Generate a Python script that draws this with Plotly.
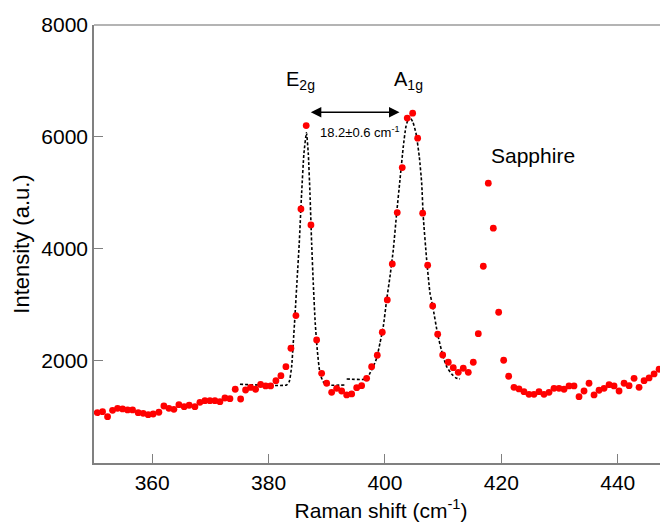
import plotly.graph_objects as go

raman_shift = [350.55, 351.47, 352.33, 353.19, 354.05, 354.91, 355.77, 356.63, 357.59, 358.45,
               359.31, 360.17, 361.15, 362.01, 362.87, 363.73, 364.59, 365.50, 366.36, 367.34,
               368.20, 369.06, 369.92, 370.78, 371.64, 372.50, 373.36, 374.27, 375.20, 376.05,
               376.91, 377.77, 378.63, 379.49, 380.35, 381.26, 382.12, 382.98, 383.84, 384.70,
               385.56, 386.47, 387.28, 388.26, 389.12, 389.98, 390.84, 391.70, 392.56, 393.42,
               394.28, 395.14, 395.99, 396.85, 397.71, 398.68, 399.54, 400.40, 401.26, 402.11,
               402.97, 403.83, 404.76, 405.62, 406.48, 407.34, 408.20, 409.06, 409.92, 410.88,
               411.74, 412.60, 413.46, 414.32, 415.18, 416.04, 416.90, 417.76, 418.62, 419.54,
               420.40, 421.26, 422.17, 423.03, 423.89, 424.75, 425.61, 426.47, 427.33, 428.19,
               429.05, 429.91, 430.77, 431.63, 432.49, 433.35, 434.21, 435.07, 435.93, 436.79,
               437.65, 438.51, 439.37, 440.23, 441.09, 441.95, 442.81, 443.67, 444.53, 445.39,
               446.25, 447.11, 447.97, 448.66]
intensity = [1077, 1094, 1005, 1119, 1155, 1143, 1125, 1125, 1077, 1066,
             1041, 1053, 1084, 1196, 1155, 1137, 1219, 1184, 1209, 1184,
             1262, 1291, 1291, 1291, 1273, 1339, 1327, 1495, 1321, 1482,
             1527, 1495, 1580, 1554, 1554, 1648, 1738, 1898, 2227, 2810,
             4716, 6204, 4430, 2375, 1780, 1602, 1441, 1512, 1464, 1393,
             1411, 1523, 1559, 1691, 1898, 2102, 2513, 3090, 3733, 4650,
             5454, 6337, 6426, 5979, 4639, 3710, 2983, 2477, 2107, 1977,
             1881, 1798, 1870, 1798, 1977, 2488, 3692, 5175, 4371, 2870,
             2013, 1727, 1530, 1500, 1452, 1405, 1405, 1452, 1405, 1441,
             1512, 1512, 1495, 1554, 1554, 1362, 1464, 1602, 1393, 1477,
             1512, 1577, 1554, 1464, 1602, 1559, 1691, 1530, 1648, 1697,
             1768, 1852, 1791, 2031]

# Fitted E2g curve
fit_e2g_x = [375.08, 383.10, 383.55, 383.96, 384.24, 384.53, 384.93, 385.27, 385.68, 386.08,
             386.51, 386.82, 387.11, 387.40, 387.68, 388.02, 388.37, 388.83, 389.39, 389.98, 393.12]
fit_e2g_y = [1584, 1572, 1630, 1898, 2317, 2792, 3506, 4103, 4997, 5711,
             6074, 5711, 4997, 4103, 3389, 2674, 2197, 1781, 1630, 1572, 1572]

# Fitted A1g curve
fit_a1g_x = [393.42, 396.85, 397.42, 397.99, 398.57, 399.14, 399.71, 400.29, 400.86, 401.43,
             402.01, 402.58, 403.15, 403.61, 404.18, 404.76, 405.33, 405.90, 406.31, 406.58,
             407.17, 407.74, 408.20, 409.06, 409.92, 410.61, 411.47, 412.21, 412.89]
fit_a1g_y = [1679, 1679, 1781, 1898, 2049, 2317, 2613, 3090, 3506, 3983,
             4639, 5234, 5829, 6187, 6365, 6276, 6069, 5650, 5175, 4578,
             3805, 3210, 2983, 2477, 2107, 1898, 1768, 1697, 1679]

x_ticks = [360, 380, 400, 420, 440]
y_ticks = [2000, 4000, 6000, 8000]

FONT = "Arial, Liberation Sans, sans-serif"

fig = go.Figure()
fig.add_trace(go.Scatter(x=fit_e2g_x, y=fit_e2g_y, mode="lines",
                         line=dict(color="black", width=1.6, dash="3px,2px", shape="spline", smoothing=0.5),
                         showlegend=False, hoverinfo="skip"))
fig.add_trace(go.Scatter(x=fit_a1g_x, y=fit_a1g_y, mode="lines",
                         line=dict(color="black", width=1.6, dash="3px,2px", shape="spline", smoothing=0.5),
                         showlegend=False, hoverinfo="skip"))
fig.add_trace(go.Scatter(x=raman_shift, y=intensity, mode="markers",
                         marker=dict(color="#ff0000", size=6.8, line=dict(width=0)),
                         showlegend=False))

# double-headed arrow
fig.add_annotation(x=402.5, y=6444, ax=387.0, ay=6444, xref="x", yref="y", axref="x", ayref="y",
                   showarrow=True, arrowhead=2, startarrowhead=2, arrowside="end+start",
                   arrowsize=1.4, startarrowsize=1.4, arrowwidth=1.5, arrowcolor="black", text="")
fig.add_annotation(x=395.7, y=6097, xref="x", yref="y", text="18.2±0.6 cm<sup>-1</sup>",
                   showarrow=False, font=dict(family=FONT, size=13, color="black"))
fig.add_annotation(x=385.4, y=7010, xref="x", yref="y", text="E<sub>2g</sub>",
                   showarrow=False, font=dict(family=FONT, size=20, color="black"))
fig.add_annotation(x=404.1, y=7010, xref="x", yref="y", text="A<sub>1g</sub>",
                   showarrow=False, font=dict(family=FONT, size=20, color="black"))
fig.add_annotation(x=425.5, y=5668, xref="x", yref="y", text="Sapphire",
                   showarrow=False, font=dict(family=FONT, size=21, color="black"))

# top spine
fig.add_shape(type="line", xref="paper", yref="paper", x0=0, x1=1, y0=1, y1=1,
              line=dict(color="#b4b4b4", width=2))

fig.update_layout(
    width=660, height=518,
    margin=dict(l=86, r=0, t=17, b=63),
    plot_bgcolor="white", paper_bgcolor="white",
    font=dict(family=FONT, size=21, color="black"),
    xaxis=dict(range=[350, 448.64], tickvals=x_ticks, ticks="inside", ticklen=9,
               tickcolor="#808080", tickwidth=1.2, showline=True, linecolor="#808080", linewidth=1.5,
               showgrid=False, zeroline=False, tickfont=dict(size=21),
               title=dict(text="Raman shift (cm<sup>-1</sup>)", font=dict(size=21), standoff=10)),
    yaxis=dict(range=[178, 8000], tickvals=y_ticks, ticks="inside", ticklen=9,
               tickcolor="#808080", tickwidth=1.2, showline=True, linecolor="#808080", linewidth=1.5,
               showgrid=False, zeroline=False, tickfont=dict(size=21),
               title=dict(text="Intensity (a.u.)", font=dict(size=22), standoff=6)),
)

fig.write_html("out.html")
